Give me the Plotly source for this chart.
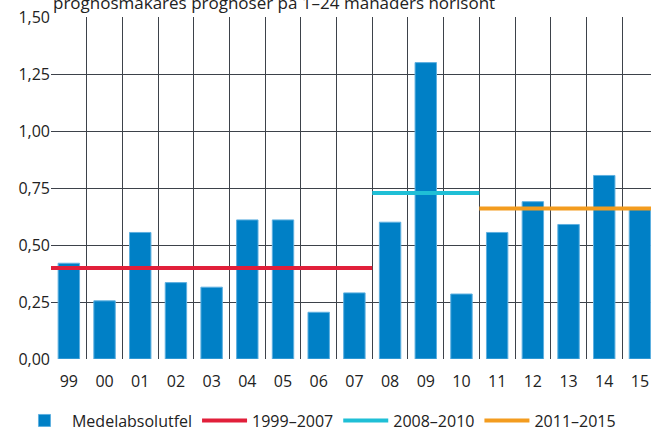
import plotly.graph_objects as go

categories = ["99", "00", "01", "02", "03", "04", "05", "06", "07",
              "08", "09", "10", "11", "12", "13", "14", "15"]
mae = [0.42, 0.255, 0.555, 0.335, 0.315, 0.61, 0.61, 0.205, 0.29,
       0.60, 1.30, 0.285, 0.555, 0.69, 0.59, 0.805, 0.66]
period_names = ["1999–2007", "2008–2010", "2011–2015"]
period_start = [0, 9, 12]   # index of first category in period
period_end = [8, 11, 16]    # index of last category in period
period_colors = ["#E11F3A", "#1FBFD6", "#F39C1F"]
y_ticks = [0, 0.25, 0.5, 0.75, 1.0, 1.25, 1.5]
y_tick_text = ["0,00", "0,25", "0,50", "0,75", "1,00", "1,25", "1,50"]
title_text = "prognosmakares prognoser på 1–24 månaders horisont"

FONT = "Open Sans"
GRID = "#3d424a"
XRANGE = [-0.5, 16.31]

xs = list(range(len(categories)))
boundaries = [i - 0.5 for i in range(len(categories) + 1)]

fig = go.Figure()
fig.add_trace(go.Bar(
    x=xs, y=mae, name="Medelabsolutfel", width=0.6,
    marker=dict(color="#0080C6", line=dict(color="#5fb0e0", width=1)),
))
for name, s, e, c in zip(period_names, period_start, period_end, period_colors):
    seg = mae[s:e + 1]
    avg = sum(seg) / len(seg)
    fig.add_trace(go.Scatter(
        x=[s - 0.5, e + 0.5], y=[avg, avg], mode="lines", name=name,
        line=dict(color=c, width=4),
    ))
# invisible trace on overlay axis to carry vertical category gridlines
fig.add_trace(go.Scatter(x=[boundaries[0]], y=[0], xaxis="x2", mode="markers",
                         marker=dict(opacity=0), showlegend=False, hoverinfo="skip"))

fig.update_layout(
    width=651, height=432,
    margin=dict(l=51, r=0, t=17, b=73, autoexpand=False),
    paper_bgcolor="white", plot_bgcolor="white",
    font=dict(family=FONT, size=16, color="#222"),
    showlegend=True,
    legend=dict(orientation="h", x=-0.0567, xanchor="left", y=-0.18, yanchor="middle",
                font=dict(size=16), itemwidth=45, tracegroupgap=0),
    bargap=0.4,
    xaxis=dict(range=XRANGE, tickmode="array", tickvals=xs, ticktext=categories,
               showgrid=False, zeroline=False, showline=False, automargin=False,
               ticks="outside", ticklen=8, tickcolor="rgba(0,0,0,0)",
               tickfont=dict(size=16, color="#222")),
    xaxis2=dict(overlaying="x", range=XRANGE, tickmode="array", tickvals=boundaries,
                showticklabels=False, ticks="", showgrid=True, gridcolor=GRID,
                gridwidth=1, zeroline=False, automargin=False, side="bottom"),
    yaxis=dict(range=[0, 1.5], tickmode="array", tickvals=y_ticks, ticktext=y_tick_text,
               showgrid=True, gridcolor=GRID, gridwidth=1, zeroline=False, automargin=False,
               showline=False, ticks="", tickfont=dict(size=16, color="#222")),
)
fig.add_annotation(
    text=title_text, xref="paper", yref="paper", x=0, xanchor="left",
    y=1.0, yshift=15, yanchor="middle", showarrow=False,
    font=dict(size=17, color="#222", family=FONT),
)
fig.write_html("out.html", config={"displayModeBar": False},
               post_script="document.body.style.margin='0';document.body.style.overflow='hidden';")
